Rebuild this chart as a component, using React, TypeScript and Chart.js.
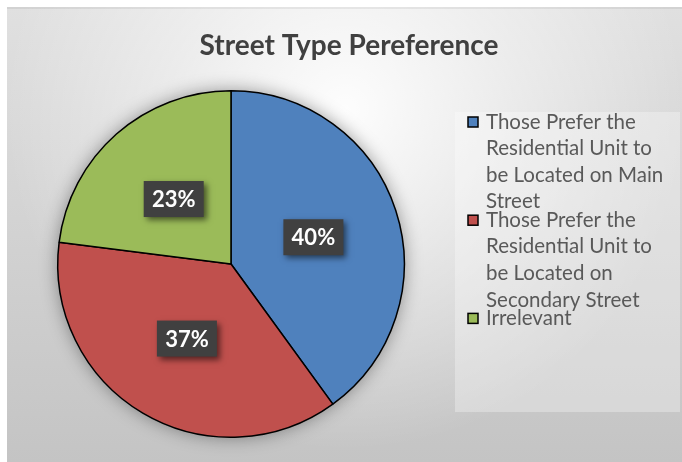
import React, { useEffect, useRef } from "react";
import { Chart, registerables } from "chart.js";

Chart.register(...registerables);

const TITLE = "Street Type Pereference";
const categories: string[][] = [
  ["Those Prefer the", "Residential Unit to", "be Located on Main", "Street"],
  ["Those Prefer the", "Residential Unit to", "be Located on", "Secondary Street"],
  ["Irrelevant"],
];
const shares = [40, 37, 23];
const sliceColors = ["#4f81bd", "#c0504d", "#9bbb59"];

const W = 682;
const H = 462;

export default function App() {
  const ref = useRef<HTMLCanvasElement>(null);

  useEffect(() => {
    const canvas = ref.current!;
    const decor = {
      id: "decor",
      beforeDraw(chart: any) {
        const ctx = chart.ctx;
        ctx.save();
        ctx.fillStyle = "#ffffff";
        ctx.fillRect(0, 0, W, H);
        const lin = ctx.createLinearGradient(0, 7, 0, H);
        lin.addColorStop(0, "#e0e0e0");
        lin.addColorStop(1, "#c4c4c4");
        ctx.fillStyle = lin;
        ctx.fillRect(7, 7, 675, 455);
        const g = ctx.createRadialGradient(345, 110, 0, 345, 110, 340);
        g.addColorStop(0, "rgba(255,255,255,0.95)");
        g.addColorStop(0.5, "rgba(255,255,255,0.45)");
        g.addColorStop(1, "rgba(255,255,255,0)");
        ctx.fillStyle = g;
        ctx.fillRect(7, 7, 675, 455);
        ctx.fillStyle = "rgba(0,0,0,0.06)";
        ctx.fillRect(7, 7, 675, 2);
        ctx.fillStyle = "rgba(255,255,255,0.3)";
        ctx.fillRect(455, 112, 225, 300);
        ctx.fillStyle = "#404040";
        ctx.font = "bold 28px Lato";
        ctx.textAlign = "center";
        ctx.textBaseline = "middle";
        ctx.fillText(TITLE, 349, 46);
        ctx.restore();
      },
      beforeDatasetsDraw(chart: any) {
        const ctx = chart.ctx;
        const arc = chart.getDatasetMeta(0).data[0];
        if (!arc) return;
        ctx.save();
        ctx.shadowColor = "rgba(0,0,0,0.4)";
        ctx.shadowBlur = 18;
        ctx.fillStyle = "#777";
        ctx.beginPath();
        ctx.arc(arc.x, arc.y, arc.outerRadius, 0, Math.PI * 2);
        ctx.fill();
        ctx.restore();
      },
      afterDatasetsDraw(chart: any) {
        const ctx = chart.ctx;
        const meta = chart.getDatasetMeta(0);
        const total = shares.reduce((a, b) => a + b, 0);
        meta.data.forEach((arc: any, i: number) => {
          const p = arc.getCenterPoint();
          const text = Math.round((shares[i] / total) * 100) + "%";
          ctx.save();
          ctx.shadowColor = "rgba(0,0,0,0.55)";
          ctx.shadowBlur = 6;
          ctx.shadowOffsetX = 3;
          ctx.shadowOffsetY = 3;
          ctx.fillStyle = "#404040";
          ctx.fillRect(p.x - 30, p.y - 18, 60, 36);
          ctx.restore();
          ctx.save();
          ctx.fillStyle = "#ffffff";
          ctx.font = "bold 22px Lato";
          ctx.textAlign = "center";
          ctx.textBaseline = "middle";
          ctx.fillText(text, p.x, p.y + 1);
          ctx.restore();
        });
      },
      afterDraw(chart: any) {
        const ctx = chart.ctx;
        ctx.save();
        ctx.font = "20.5px Lato";
        ctx.textAlign = "left";
        ctx.textBaseline = "middle";
        let y = 122;
        const lineH = 26.6;
        categories.forEach((lines, i) => {
          ctx.fillStyle = sliceColors[i];
          ctx.fillRect(468, y - 5, 10, 10);
          ctx.strokeStyle = "#000";
          ctx.lineWidth = 1.5;
          ctx.strokeRect(468, y - 5, 10, 10);
          ctx.fillStyle = "#595959";
          lines.forEach((ln, k) => {
            ctx.fillText(ln, 486, y + k * lineH);
          });
          y += (lines.length - 1) * lineH + 18.4;
        });
        ctx.restore();
      },
    };

    const chart = new Chart(canvas, {
      type: "pie",
      data: {
        labels: categories.map((l) => l.join(" ")),
        datasets: [
          {
            data: shares,
            backgroundColor: sliceColors,
            borderColor: "#000000",
            borderWidth: 1.5,
          },
        ],
      },
      options: {
        animation: false,
        responsive: false,
        devicePixelRatio: 1,
        layout: { padding: { left: 57, right: 277, top: 90, bottom: 24 } },
        plugins: {
          legend: { display: false },
          title: { display: false },
          tooltip: { enabled: false },
        },
      },
      plugins: [decor],
    });
    return () => chart.destroy();
  }, []);

  return (
    <div style={{ position: "fixed", left: 0, top: 0, width: W, height: H }}>
      <canvas ref={ref} width={W} height={H} style={{ display: "block", width: W, height: H }} />
    </div>
  );
}
